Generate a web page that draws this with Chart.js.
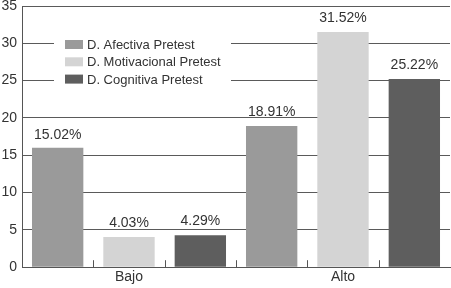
<!DOCTYPE html>
<html lang="es">
<head>
  <meta charset="UTF-8">
  <title>Dimensiones Pretest</title>
  <script src="https://cdn.jsdelivr.net/npm/chart.js"></script>
  <style>
    html, body {
      margin: 0;
      padding: 0;
      background: #fff;
    }
    #wrap {
      width: 451px;
      height: 288px;
    }
  </style>
</head>
<body>
  <div id="wrap"><canvas id="chart"></canvas></div>

  <script>
    const categories = ['Bajo', 'Alto'];
    const seriesNames = ['D. Afectiva Pretest', 'D. Motivacional Pretest', 'D. Cognitiva Pretest'];
    // bar heights as drawn in the picture
    const afectiva = [16.0, 18.91];
    const motivacional = [4.03, 31.52];
    const cognitiva = [4.29, 25.22];
    // printed labels
    const afectivaLabels = ['15.02%', '18.91%'];
    const motivacionalLabels = ['4.03%', '31.52%'];
    const cognitivaLabels = ['4.29%', '25.22%'];
    const yTicks = [0, 5, 10, 15, 20, 25, 30, 35];

    const colors = ['#9a9a9a', '#d4d4d4', '#5e5e5e'];
    const textColor = '#333';
    const font = 'Liberation Sans, Arial, sans-serif';

    const valueLabels = {
      id: 'valueLabels',
      afterDatasetsDraw(chart) {
        const ctx = chart.ctx;
        const yScale = chart.scales.y;
        const all = [afectivaLabels, motivacionalLabels, cognitivaLabels];
        const bottom = chart.chartArea.bottom;
        ctx.save();
        ctx.font = '14px ' + font;
        ctx.fillStyle = textColor;
        ctx.textAlign = 'center';
        ctx.textBaseline = 'middle';
        const xs = [];
        chart.data.datasets.forEach((ds, i) => {
          chart.getDatasetMeta(i).data.forEach((bar, j) => {
            // label sits a little above its printed value, but close to tall bars
            let ly = yScale.getPixelForValue(parseFloat(all[i][j]) + 2.7);
            ly = Math.max(ly, bar.y - 14);
            ctx.fillText(all[i][j], bar.x, ly);
            xs.push(bar.x);
          });
        });
        // small ticks between neighbouring bars
        xs.sort((a, b) => a - b);
        ctx.strokeStyle = '#555';
        ctx.lineWidth = 1;
        ctx.beginPath();
        for (let k = 0; k < xs.length - 1; k++) {
          const mx = Math.round((xs[k] + xs[k + 1]) / 2) + 0.5;
          ctx.moveTo(mx, bottom);
          ctx.lineTo(mx, bottom - 7);
        }
        ctx.stroke();
        ctx.restore();
      }
    };

    const boxLegend = {
      id: 'boxLegend',
      afterDraw(chart) {
        const ctx = chart.ctx;
        ctx.save();
        ctx.fillStyle = '#fff';
        ctx.fillRect(54, 34, 177, 56);
        ctx.font = '13px ' + font;
        ctx.textBaseline = 'middle';
        seriesNames.forEach((name, i) => {
          const y = 44.5 + i * 17.3;
          ctx.fillStyle = colors[i];
          ctx.fillRect(65, y - 4.5, 18, 9);
          ctx.fillStyle = textColor;
          ctx.fillText(name, 87, y + 1);
        });
        ctx.restore();
      }
    };

    new Chart(document.getElementById('chart'), {
      type: 'bar',
      data: {
        labels: categories,
        datasets: [
          { label: seriesNames[0], data: afectiva, backgroundColor: colors[0] },
          { label: seriesNames[1], data: motivacional, backgroundColor: colors[1] },
          { label: seriesNames[2], data: cognitiva, backgroundColor: colors[2] }
        ]
      },
      options: {
        responsive: true,
        maintainAspectRatio: false,
        animation: false,
        layout: { padding: { top: 6, right: 1, left: 0, bottom: 0 } },
        datasets: {
          bar: { categoryPercentage: 1.0, barPercentage: 0.72 }
        },
        scales: {
          x: {
            grid: { display: false, drawTicks: false },
            border: { color: '#555', width: 1 },
            ticks: { color: textColor, font: { size: 14, family: font }, padding: 2 }
          },
          y: {
            min: 0,
            max: 35,
            afterBuildTicks(scale) {
              scale.ticks = yTicks.map(v => ({ value: v }));
            },
            afterFit(scale) {
              scale.width = 22;
              scale.paddingTop = 0;
              scale.paddingBottom = 0;
            },
            grid: { color: '#5a5a5a', drawTicks: false },
            border: { color: '#555', width: 1 },
            ticks: { color: textColor, font: { size: 14, family: font }, padding: 5 }
          }
        },
        plugins: {
          legend: { display: false },
          tooltip: { enabled: false }
        }
      },
      plugins: [valueLabels, boxLegend]
    });
  </script>
</body>
</html>
